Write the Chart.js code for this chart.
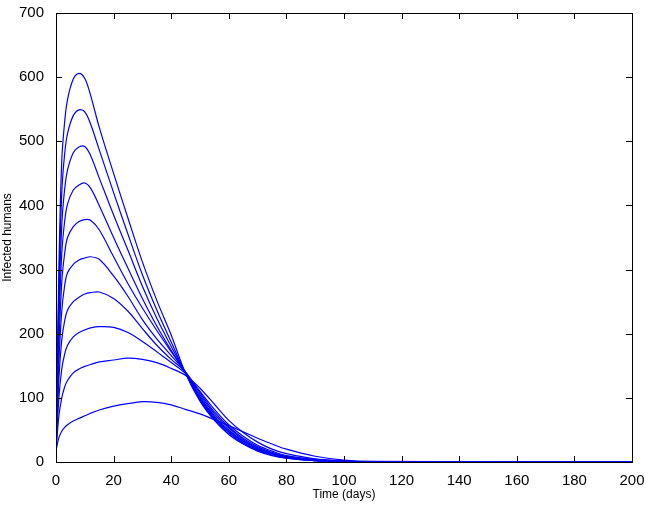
<!DOCTYPE html>
<html>
<head>
<meta charset="utf-8">
<script src="https://cdn.jsdelivr.net/npm/chart.js@4"></script>
<style>
  html, body { margin: 0; padding: 0; background: #fff; }
  #wrap { width: 648px; height: 506px; }
</style>
</head>
<body>
<div id="wrap"><canvas id="infectedChart"></canvas></div>
<script>
// sample days shared by every run
const days = [0, 1, 2, 3, 4, 6, 8, 10, 12, 15, 20, 25, 30, 35, 40, 45, 50, 55, 60, 65, 70, 75, 80, 90, 100, 110, 200]

// infected humans, one array per run
const run1 = [20, 300, 470, 530, 565, 597, 606, 598, 572, 522, 450, 380, 312, 252, 198, 138, 95, 65, 43, 28, 17, 10, 6, 2, 1, 0, 0]
const run2 = [20, 270, 420, 480, 512, 540, 549, 546, 527, 487, 420, 355, 292, 237, 187, 138, 96, 66, 45, 29, 18, 11, 6, 2, 1, 0, 0]
const run3 = [20, 240, 370, 425, 455, 482, 491, 492, 478, 443, 385, 330, 274, 224, 180, 139, 98, 68, 47, 30, 19, 12, 7, 2, 1, 0, 0]
const run4 = [20, 210, 325, 375, 402, 424, 432, 435, 427, 400, 350, 302, 255, 212, 174, 139, 100, 70, 48, 32, 20, 12, 7, 2, 1, 0, 0]
const run5 = [20, 180, 280, 325, 350, 367, 375, 378, 377, 362, 320, 278, 240, 205, 172, 140, 102, 72, 50, 33, 21, 13, 8, 3, 1, 0, 0]
const run6 = [20, 155, 235, 275, 295, 308, 315, 318, 320, 316, 290, 258, 222, 192, 166, 140, 105, 75, 53, 35, 22, 14, 8, 3, 1, 0, 0]
const run7 = [20, 130, 190, 220, 237, 250, 257, 262, 264, 265, 255, 235, 208, 182, 160, 140, 108, 78, 55, 37, 24, 15, 9, 3, 1, 0, 0]
const run8 = [19, 100, 145, 168, 182, 195, 202, 206, 209, 211, 210, 202, 188, 172, 155, 138, 110, 82, 58, 40, 26, 17, 10, 4, 1, 0, 0]
const run9 = [18, 72, 100, 117, 127, 139, 145, 149, 152, 156, 159, 162, 160, 155, 146, 135, 115, 90, 65, 46, 31, 20, 13, 5, 2, 0, 0]
const run10 = [18, 38, 48, 54, 58, 64, 68, 72, 76, 81, 87, 91, 94, 93, 89, 82, 75, 66, 57, 47, 37, 28, 20, 9, 3, 1, 0]

const runs = [run1, run2, run3, run4, run5, run6, run7, run8, run9, run10]
const xTicks = [0, 20, 40, 60, 80, 100, 120, 140, 160, 180, 200]
const yTicks = [0, 100, 200, 300, 400, 500, 600, 700]

// MATLAB style box with inward ticks on all four sides
const boxPlugin = {
  id: "box",
  afterDraw(chart) {
    const { ctx, chartArea: a, scales } = chart
    ctx.save()
    ctx.strokeStyle = "#000"
    ctx.lineWidth = 1
    ctx.strokeRect(a.left + 0.5, a.top + 0.5, a.right - a.left, a.bottom - a.top)
    ctx.beginPath()
    xTicks.forEach((v) => {
      const px = Math.round(scales.x.getPixelForValue(v)) + 0.5
      ctx.moveTo(px, a.bottom); ctx.lineTo(px, a.bottom - 6)
      ctx.moveTo(px, a.top); ctx.lineTo(px, a.top + 6)
    })
    yTicks.forEach((v) => {
      const py = Math.round(scales.y.getPixelForValue(v)) + 0.5
      ctx.moveTo(a.left, py); ctx.lineTo(a.left + 6, py)
      ctx.moveTo(a.right, py); ctx.lineTo(a.right - 6, py)
    })
    ctx.stroke()
    ctx.restore()
  },
}

new Chart(document.getElementById("infectedChart"), {
  type: "line",
  data: {
    datasets: runs.map((r) => ({
      data: r.map((y, i) => ({ x: days[i], y })),
      borderColor: "#0000ff",
      borderWidth: 1.2,
      pointRadius: 0,
      tension: 0.35,
      fill: false,
    })),
  },
  plugins: [boxPlugin],
  options: {
    responsive: true,
    maintainAspectRatio: false,
    animation: false,
    layout: { padding: { top: 7, right: 16, left: 0, bottom: 0 } },
    plugins: { legend: { display: false }, tooltip: { enabled: false } },
    scales: {
      x: {
        type: "linear",
        min: 0,
        max: 200,
        afterBuildTicks: (s) => { s.ticks = xTicks.map((v) => ({ value: v })) },
        afterFit: (s) => { s.height = 44 },
        grid: { display: false },
        border: { display: false },
        ticks: { color: "#000", font: { family: "Liberation Sans", size: 15 }, padding: 2, maxRotation: 0 },
        title: { display: true, text: "Time (days)", color: "#000", font: { family: "Liberation Sans", size: 12 }, padding: { top: 0 } },
      },
      y: {
        min: 0,
        max: 700,
        afterBuildTicks: (s) => { s.ticks = yTicks.map((v) => ({ value: v })) },
        afterFit: (s) => { s.width = 56 },
        grid: { display: false },
        border: { display: false },
        ticks: { color: "#000", font: { family: "Liberation Sans", size: 15 }, padding: 4 },
        title: { display: true, text: "Infected humans", color: "#000", font: { family: "Liberation Sans", size: 12 }, padding: { top: 0, bottom: 0 } },
      },
    },
  },
})
</script>
</body>
</html>
